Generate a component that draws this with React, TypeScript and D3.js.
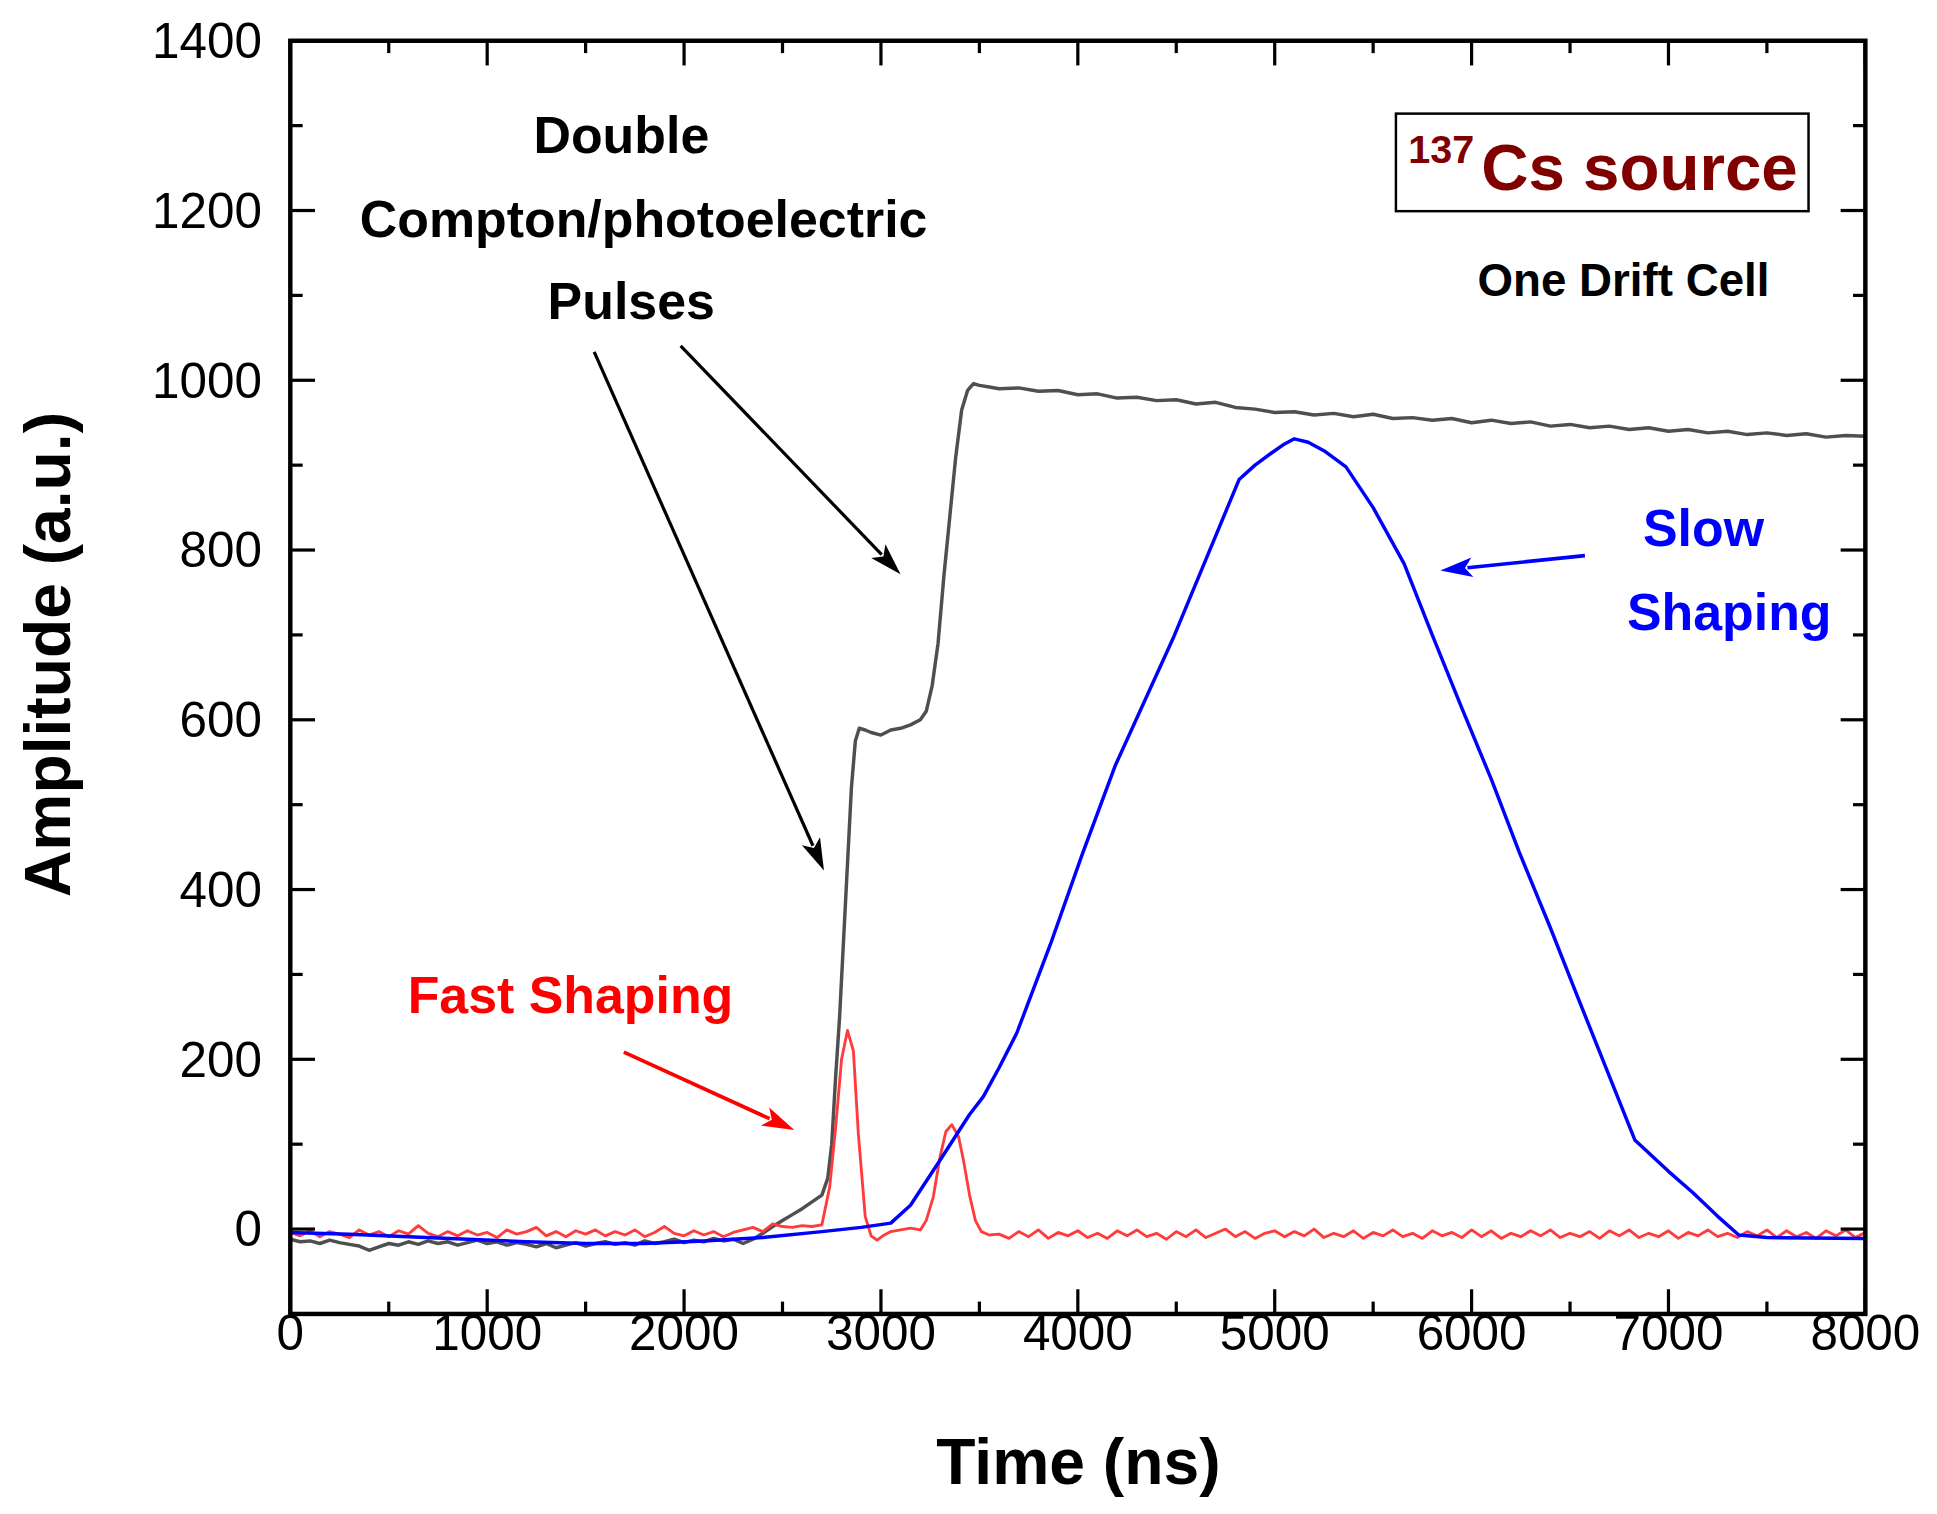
import React from "react";
import * as d3 from "d3";

// ---------- data ----------
const xTicks = [0, 1000, 2000, 3000, 4000, 5000, 6000, 7000, 8000];
const yTicks = [0, 200, 400, 600, 800, 1000, 1200, 1400];

// raw detector pulse (gray)
const grayT = [
  0, 50, 100, 150, 200, 250, 300, 350, 400, 450, 500, 550, 600, 650, 700, 750, 800, 850, 900, 950,
  1000, 1050, 1100, 1150, 1200, 1250, 1300, 1350, 1400, 1450, 1500, 1550, 1600, 1650, 1700, 1750,
  1800, 1850, 1900, 1950, 2000, 2050, 2100, 2150, 2200, 2250, 2300, 2350, 2400, 2450, 2500, 2550,
  2600, 2650, 2700, 2730, 2750, 2770, 2790, 2810, 2830, 2850, 2870, 2890, 2920, 2950, 3000, 3050,
  3100, 3150, 3200, 3230, 3260, 3290, 3320, 3350, 3380, 3410, 3440, 3470, 3500, 3550, 3600, 3700,
  3800, 3900, 4000, 4100, 4200, 4300, 4400, 4500, 4600, 4700, 4800, 4900, 5000, 5100, 5200, 5300,
  5400, 5500, 5600, 5700, 5800, 5900, 6000, 6100, 6200, 6300, 6400, 6500, 6600, 6700, 6800, 6900,
  7000, 7100, 7200, 7300, 7400, 7500, 7600, 7700, 7800, 7900, 8000,
];
const grayV = [
  -12, -15, -14, -17, -13, -16, -18, -20, -25, -21, -17, -19, -15, -18, -14, -17, -15, -19, -16, -13,
  -17, -15, -19, -16, -18, -21, -17, -22, -19, -16, -20, -17, -15, -18, -16, -19,
  -14, -17, -15, -12, -16, -13, -15, -11, -14, -12, -17, -12, -5, 3, 10, 17,
  24, 32, 40, 60, 100, 180, 250, 340, 430, 520, 575, 590, 588, 585, 582, 588,
  590, 594, 600, 610, 640, 690, 770, 840, 910, 965, 988, 996, 994, 992, 990, 991,
  987, 988, 983, 984, 979, 980, 976, 977, 972, 974, 968, 966, 962, 963, 959, 961,
  957, 960, 955, 956, 953, 955, 950, 953, 949, 951, 946, 948, 944, 946, 942, 944,
  940, 942, 938, 940, 936, 938, 935, 937, 933, 935, 934,
];

// fast shaping (red)
const redT = [
  0, 50, 100, 150, 200, 250, 300, 350, 400, 450, 500, 550, 600, 650, 700, 750, 800, 850, 900, 950,
  1000, 1050, 1100, 1150, 1200, 1250, 1300, 1350, 1400, 1450, 1500, 1550, 1600, 1650, 1700, 1750,
  1800, 1850, 1900, 1950, 2000, 2050, 2100, 2150, 2200, 2250, 2300, 2350, 2400, 2450, 2500, 2550,
  2600, 2650, 2700, 2740, 2770, 2800, 2830, 2860, 2885, 2920, 2950, 2980, 3010, 3050, 3100, 3150,
  3200, 3230, 3266, 3300, 3330, 3360, 3394, 3420, 3450, 3480, 3510, 3550, 3600, 3650, 3700, 3750,
  3800, 3850, 3900, 3950, 4000, 4050, 4100, 4150, 4200, 4250, 4300, 4350, 4400, 4450, 4500, 4550,
  4600, 4650, 4700, 4750, 4800, 4850, 4900, 4950, 5000, 5050, 5100, 5150, 5200, 5250, 5300, 5350,
  5400, 5450, 5500, 5550, 5600, 5650, 5700, 5750, 5800, 5850, 5900, 5950, 6000, 6050, 6100, 6150,
  6200, 6250, 6300, 6350, 6400, 6450, 6500, 6550, 6600, 6650, 6700, 6750, 6800, 6850, 6900, 6950,
  7000, 7050, 7100, 7150, 7200, 7250, 7300, 7350, 7400, 7450, 7500, 7550, 7600, 7650, 7700, 7750,
  7800, 7850, 7900, 7950, 8000,
];
const redV = [
  -4, -8, -2, -9, -3, -6, -10, -1, -7, -3, -9, -2, -6, 4, -5, -9, -3, -8, -2, -7,
  -4, -10, -1, -6, -3, 2, -8, -3, -9, -2, -6, -1, -8, -3, -7, -1,
  -9, -4, 3, -5, -8, -2, -7, -3, -9, -4, -1, 2, -3, 6, 3, 2,
  4, 3, 5, 50, 120, 200, 234, 210, 113, 15, -8, -13, -8, -3, -1, 1,
  -1, 10, 38, 85, 115, 123, 109, 80, 40, 10, -3, -7, -6, -11, -3, -9,
  -1, -11, -4, -8, -2, -10, -5, -11, -2, -8, -1, -9, -5, -12, -3, -9,
  -1, -10, -5, 0, -9, -3, -11, -5, -2, -9, -3, -8, 0, -10, -5, -9,
  -2, -11, -4, -8, -1, -9, -5, -11, -2, -8, -4, -10, -1, -9, -2, -11,
  -5, -9, -2, -8, -1, -10, -5, -9, -3, -11, -2, -8, -1, -10, -5, -9,
  -2, -11, -4, -8, -1, -9, -5, -10, -3, -8, -1, -10, -2, -9, -4, -11,
  -2, -8, -1, -10, -4,
];

// slow shaping (blue)
const blueT = [
  0, 300, 600, 900, 1200, 1500, 1800, 2100, 2400, 2700, 2900, 3050, 3150, 3300, 3450, 3520, 3600,
  3690, 3860, 4020, 4190, 4484, 4819, 4900, 4982, 5050, 5100, 5170, 5250, 5362, 5500, 5657, 5800,
  5950, 6100, 6242, 6400, 6536, 6700, 6829, 7000, 7123, 7250, 7357, 7500, 8000,
];
const blueV = [
  -4, -6, -9, -12, -15, -17, -17, -14, -10, -3, 2, 7, 28, 81, 135, 156, 190,
  231, 335, 440, 546, 696, 883, 900, 914, 925, 931, 927, 917, 898, 850, 784, 700,
  614, 530, 444, 355, 275, 180, 105, 68, 43, 15, -7, -10, -11,
];

// ---------- layout (in a 1568 x 1226 design space) ----------
const W = 1568;
const H = 1226;
const L = 235;
const R = 1510;
const T = 33;
const B = 1064;

const FONT = "'Liberation Sans', Arial, Helvetica, sans-serif";

function Arrow({ x1, y1, x2, y2, color, w = 2.6, len = 26, half = 8 }: any) {
  const a = Math.atan2(y2 - y1, x2 - x1);
  const bx = x2 - len * Math.cos(a);
  const by = y2 - len * Math.sin(a);
  const px = -Math.sin(a) * half;
  const py = Math.cos(a) * half;
  return (
    <g>
      <line x1={x1} y1={y1} x2={bx + 4 * Math.cos(a)} y2={by + 4 * Math.sin(a)} stroke={color} strokeWidth={w} />
      <path d={`M${x2},${y2} L${bx + px},${by + py} L${bx + 6 * Math.cos(a)},${by + 6 * Math.sin(a)} L${bx - px},${by - py} Z`} fill={color} />
    </g>
  );
}

export default function App() {
  const x = d3.scaleLinear().domain([0, 8000]).range([L, R]);
  const y = d3.scaleLinear().domain([-100, 1400]).range([B, T]);

  const line = d3
    .line<[number, number]>()
    .x((d) => x(d[0]))
    .y((d) => y(d[1]));

  const gray = line(grayT.map((t, i) => [t, grayV[i]]));
  const red = line(redT.map((t, i) => [t, redV[i]]));
  const blue = line(blueT.map((t, i) => [t, blueV[i]]));

  const xMinor = d3.range(500, 8000, 1000);
  const yMinor = d3.range(-100, 1400, 200);

  const majorLen = 20;
  const minorLen = 10;

  return (
    <svg
      width={1937}
      height={1514}
      viewBox={`0 0 ${W} ${H}`}
      preserveAspectRatio="none"
      style={{ position: "absolute", left: 0, top: 0, display: "block", background: "#fff" }}
    >
      <rect x={0} y={0} width={W} height={H} fill="#fff" />
      <defs>
        <clipPath id="plotclip">
          <rect x={L} y={T} width={R - L} height={B - T} />
        </clipPath>
      </defs>

      {/* curves */}
      <g clipPath="url(#plotclip)" fill="none" strokeLinejoin="round">
        <path d={gray || ""} stroke="#4f4f4f" strokeWidth={2.8} />
        <path d={red || ""} stroke="#ff3b3b" strokeWidth={2.3} />
        <path d={blue || ""} stroke="#0000ff" strokeWidth={2.8} />
      </g>

      {/* ticks */}
      <g stroke="#000" strokeWidth={2.6}>
        {xTicks.map((t) => (
          <g key={"xt" + t}>
            <line x1={x(t)} x2={x(t)} y1={B} y2={B - majorLen} />
            <line x1={x(t)} x2={x(t)} y1={T} y2={T + majorLen} />
          </g>
        ))}
        {xMinor.map((t) => (
          <g key={"xm" + t}>
            <line x1={x(t)} x2={x(t)} y1={B} y2={B - minorLen} />
            <line x1={x(t)} x2={x(t)} y1={T} y2={T + minorLen} />
          </g>
        ))}
        {yTicks.map((t) => (
          <g key={"yt" + t}>
            <line x1={L} x2={L + majorLen} y1={y(t)} y2={y(t)} />
            <line x1={R} x2={R - majorLen} y1={y(t)} y2={y(t)} />
          </g>
        ))}
        {yMinor.map((t) => (
          <g key={"ym" + t}>
            <line x1={L} x2={L + minorLen} y1={y(t)} y2={y(t)} />
            <line x1={R} x2={R - minorLen} y1={y(t)} y2={y(t)} />
          </g>
        ))}
      </g>

      {/* frame */}
      <rect x={L} y={T} width={R - L} height={B - T} fill="none" stroke="#000" strokeWidth={3.6} />

      {/* tick labels */}
      <g fontFamily={FONT} fontSize={40} fill="#000">
        {xTicks.map((t) => (
          <text key={"xl" + t} x={x(t)} y={1093} textAnchor="middle">
            {t}
          </text>
        ))}
        {yTicks.map((t) => (
          <text key={"yl" + t} x={212} y={y(t) + 14} textAnchor="end">
            {t}
          </text>
        ))}
      </g>

      {/* axis titles */}
      <text x={873} y={1202} textAnchor="middle" fontFamily={FONT} fontWeight="bold" fontSize={52}>
        Time (ns)
      </text>
      <text
        transform={`translate(57,530) rotate(-90)`}
        textAnchor="middle"
        fontFamily={FONT}
        fontWeight="bold"
        fontSize={52}
      >
        Amplitude (a.u.)
      </text>

      {/* annotations */}
      <g fontFamily={FONT} fontWeight="bold" fontSize={42} fill="#000" textAnchor="middle">
        <text x={503} y={124}>Double</text>
        <text x={521} y={192}>Compton/photoelectric</text>
        <text x={511} y={258}>Pulses</text>
      </g>
      <text x={1196} y={240} fontFamily={FONT} fontWeight="bold" fontSize={37} fill="#000">
        One Drift Cell
      </text>
      <text x={330} y={820} fontFamily={FONT} fontWeight="bold" fontSize={42} fill="#ff0000">
        Fast Shaping
      </text>
      <text x={1330} y={442} fontFamily={FONT} fontWeight="bold" fontSize={42} fill="#0000ff">
        Slow
      </text>
      <text x={1317} y={510} fontFamily={FONT} fontWeight="bold" fontSize={42} fill="#0000ff">
        Shaping
      </text>

      {/* source box */}
      <rect x={1130} y={92} width={334} height={79} fill="#fff" stroke="#000" strokeWidth={2} />
      <text x={1140} y={132} fontFamily={FONT} fontWeight="bold" fontSize={32} fill="#800000">
        137
      </text>
      <text x={1199} y={154} fontFamily={FONT} fontWeight="bold" fontSize={53} fill="#800000">
        Cs source
      </text>

      {/* arrows */}
      <Arrow x1={481} y1={285} x2={667} y2={705} color="#000" />
      <Arrow x1={551} y1={280} x2={729} y2={465} color="#000" />
      <Arrow x1={505} y1={852} x2={643} y2={915} color="#ff0000" w={3} />
      <Arrow x1={1283} y1={450} x2={1166} y2={462} color="#0000ff" w={3} />
    </svg>
  );
}
